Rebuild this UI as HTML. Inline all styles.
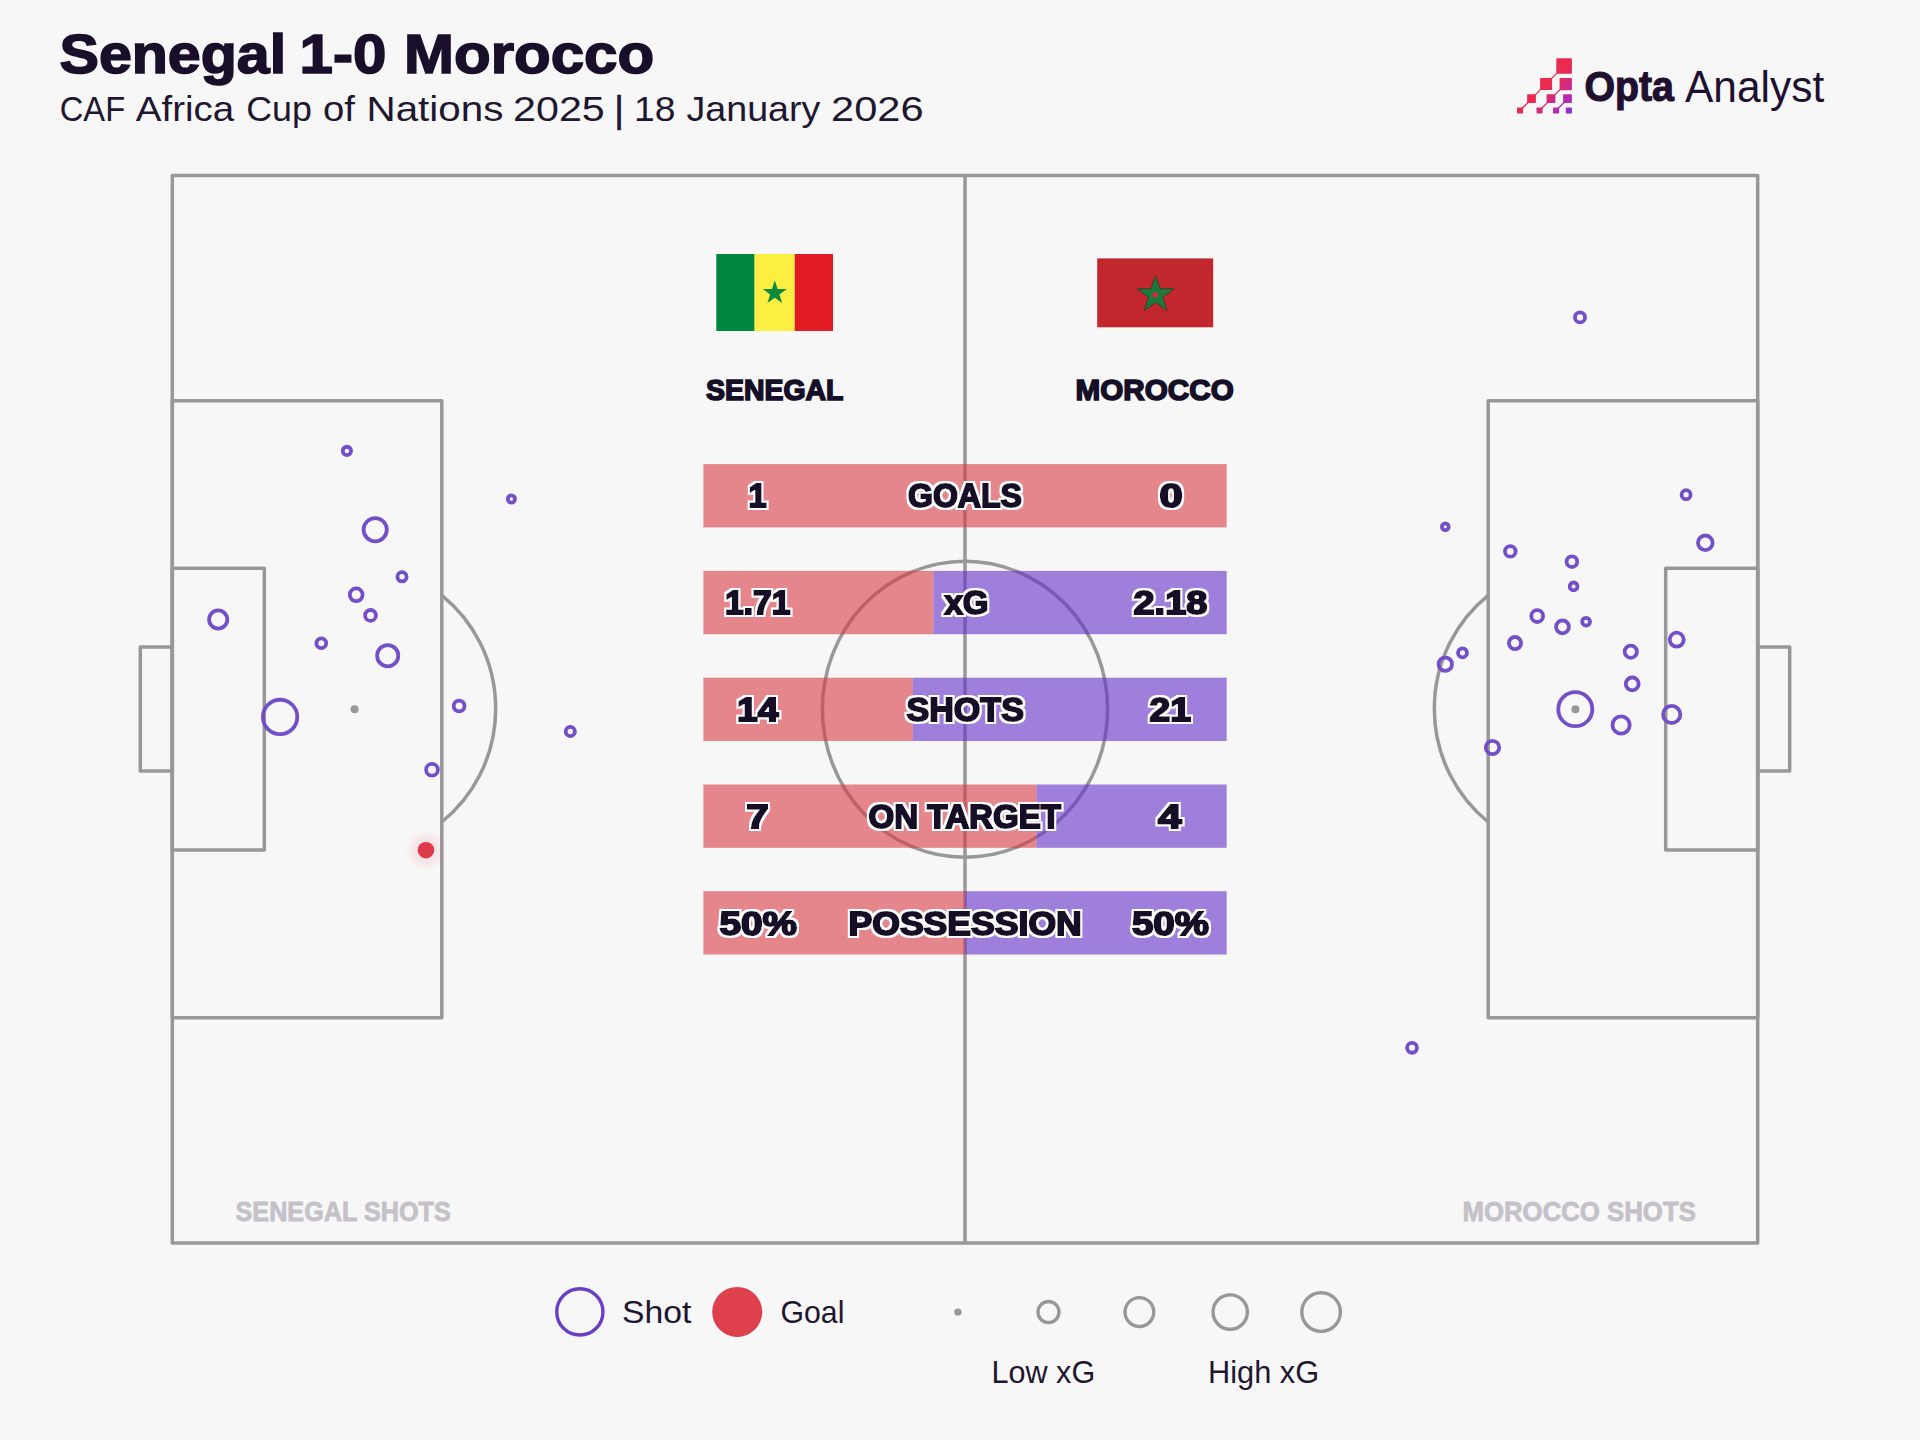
<!DOCTYPE html>
<html lang="en"><head><meta charset="utf-8"><title>Senegal 1-0 Morocco</title>
<style>
html,body{margin:0;padding:0;background:#f7f7f7;}
body{width:1920px;height:1440px;overflow:hidden;font-family:"Liberation Sans", sans-serif;}
svg{display:block;font-family:"Liberation Sans", sans-serif;}
.ln{fill:none;stroke:#989898;stroke-width:3.5;stroke-linejoin:round;}
.sh{fill:none;stroke:#7450c8;stroke-width:3.8;}
</style></head><body>
<svg width="1920" height="1440" viewBox="0 0 1920 1440">
<defs><linearGradient id="lg" gradientUnits="userSpaceOnUse" x1="1532" y1="70" x2="1575" y2="112"><stop offset="0" stop-color="#f22b45"/><stop offset="0.42" stop-color="#e82a52"/><stop offset="0.75" stop-color="#b82ab0"/><stop offset="1" stop-color="#7f2be6"/></linearGradient>
<filter id="ol" x="-40%" y="-30%" width="180%" height="160%"><feMorphology in="SourceAlpha" operator="dilate" radius="2" result="d"/><feFlood flood-color="#fff"/><feComposite in2="d" operator="in" result="o"/><feMerge><feMergeNode in="o"/><feMergeNode in="SourceGraphic"/></feMerge></filter>
<radialGradient id="glow"><stop offset="0" stop-color="#dc3d4b" stop-opacity="0.2"/><stop offset="1" stop-color="#dc3d4b" stop-opacity="0"/></radialGradient></defs>
<rect width="1920" height="1440" fill="#f7f7f7"/>
<text font-size="55.53" font-weight="700" fill="#1a0f2b" stroke="#1a0f2b" stroke-width="1.6" stroke-linejoin="miter" stroke-miterlimit="2.5"><tspan x="59.50" y="72.95" textLength="226.60" lengthAdjust="spacingAndGlyphs">Senegal</tspan> <tspan x="299.50" y="72.95" textLength="86.79" lengthAdjust="spacingAndGlyphs">1-0</tspan> <tspan x="404.00" y="72.95" textLength="250.09" lengthAdjust="spacingAndGlyphs">Morocco</tspan></text>
<text font-size="35.46" font-weight="400" fill="#1f1630"><tspan x="59.75" y="121.25" textLength="65.39" lengthAdjust="spacingAndGlyphs">CAF</tspan> <tspan x="135.75" y="121.25" textLength="98.43" lengthAdjust="spacingAndGlyphs">Africa</tspan> <tspan x="246.25" y="121.25" textLength="65.62" lengthAdjust="spacingAndGlyphs">Cup</tspan> <tspan x="323.00" y="121.25" textLength="31.93" lengthAdjust="spacingAndGlyphs">of</tspan> <tspan x="366.50" y="121.25" textLength="136.87" lengthAdjust="spacingAndGlyphs">Nations</tspan> <tspan x="513.00" y="121.25" textLength="91.77" lengthAdjust="spacingAndGlyphs">2025</tspan> <tspan x="614.3" y="121.5" font-size="37" stroke="#1f1630" stroke-width="0.6">|</tspan> <tspan x="634.00" y="121.25" textLength="41.44" lengthAdjust="spacingAndGlyphs">18</tspan> <tspan x="686.50" y="121.25" textLength="133.83" lengthAdjust="spacingAndGlyphs">January</tspan> <tspan x="831.00" y="121.25" textLength="92.52" lengthAdjust="spacingAndGlyphs">2026</tspan></text>
<g fill="url(#lg)">
<rect x="1556.3" y="58.2" width="15.6" height="15.6" rx="0.8"/>
<rect x="1540.1" y="78" width="12" height="12" rx="0.8"/>
<rect x="1559.6" y="78" width="12.3" height="12.3" rx="0.8"/>
<rect x="1527.1" y="94.2" width="8.8" height="8.8" rx="0.8"/>
<rect x="1546.6" y="94.2" width="8.8" height="8.8" rx="0.8"/>
<rect x="1563.1" y="94.2" width="8.8" height="8.8" rx="0.8"/>
<rect x="1517" y="107.4" width="6.1" height="6.1" rx="0.8"/>
<rect x="1536.5" y="107.4" width="6.1" height="6.1" rx="0.8"/>
<rect x="1553" y="107.4" width="6.1" height="6.1" rx="0.8"/>
<rect x="1565.8" y="107.4" width="6.1" height="6.1" rx="0.8"/>
</g>
<path stroke="url(#lg)" stroke-width="1.3" fill="none" d="M1522 108.5L1528.5 102M1534.5 95.6L1541.5 88.6M1550.7 79.4L1557.7 72.4M1541.5 108.5L1548 102M1554 95.6L1561 88.6M1558 108.5L1564.5 102"/>
<text x="1584.50" y="101.30" font-size="42.70" font-weight="700" textLength="89.45" lengthAdjust="spacingAndGlyphs" fill="#1f1030" stroke="#1f1030" stroke-width="1.2" stroke-linejoin="miter" stroke-miterlimit="2.5">Opta</text>
<text x="1685.00" y="101.90" font-size="44.40" font-weight="400" textLength="139.20" lengthAdjust="spacingAndGlyphs" fill="#1f1030">Analyst</text>
<g class="ln">
<rect x="172.3" y="175.4" width="1585.4" height="1067.6"/>
<line x1="965.00" y1="175.4" x2="965.00" y2="1243.0"/>
<ellipse cx="965.00" cy="709.2" rx="142.6" ry="148.0"/>
<rect x="172.3" y="400.7" width="269.5" height="617.1"/>
<rect x="1488.2" y="400.7" width="269.5" height="617.1"/>
<rect x="172.3" y="568.3" width="92.0" height="281.8"/>
<rect x="1665.7" y="568.3" width="92.0" height="281.8"/>
<rect x="140.3" y="647.0" width="32" height="124.0"/>
<rect x="1757.7" y="647.0" width="32" height="124.0"/>
<path d="M441.8 595.3A141.1 144.2 0 0 1 441.8 822.0"/>
<path d="M1488.2 595.3A141.1 144.2 0 0 0 1488.2 822.0"/>
</g>
<circle cx="354.6" cy="709.2" r="4" fill="#989898"/><circle cx="1575.4" cy="709.2" r="4" fill="#989898"/>
<rect x="703.4" y="464.1" width="523.3" height="63.3" fill="#d93b46" fill-opacity="0.6"/>
<rect x="703.4" y="570.9" width="230.0" height="63.3" fill="#d93b46" fill-opacity="0.6"/>
<rect x="933.4" y="570.9" width="293.3" height="63.3" fill="#642fca" fill-opacity="0.6"/>
<rect x="703.4" y="677.7" width="209.3" height="63.3" fill="#d93b46" fill-opacity="0.6"/>
<rect x="912.7" y="677.7" width="314.0" height="63.3" fill="#642fca" fill-opacity="0.6"/>
<rect x="703.4" y="784.5" width="333.0" height="63.3" fill="#d93b46" fill-opacity="0.6"/>
<rect x="1036.4" y="784.5" width="190.3" height="63.3" fill="#642fca" fill-opacity="0.6"/>
<rect x="703.4" y="891.2" width="261.6" height="63.3" fill="#d93b46" fill-opacity="0.6"/>
<rect x="965.0" y="891.2" width="261.7" height="63.3" fill="#642fca" fill-opacity="0.6"/>
<circle class="sh" cx="346.9" cy="450.9" r="4.15"/>
<circle class="sh" cx="511.4" cy="499" r="3.60"/>
<circle class="sh" cx="375.2" cy="529.7" r="11.60"/>
<circle class="sh" cx="402" cy="576.8" r="4.60"/>
<circle class="sh" cx="356.2" cy="594.8" r="6.40"/>
<circle class="sh" cx="370.5" cy="615.4" r="5.40"/>
<circle class="sh" cx="218.2" cy="619.5" r="9.10"/>
<circle class="sh" cx="321.3" cy="643.2" r="4.90"/>
<circle class="sh" cx="387.7" cy="655.7" r="10.60"/>
<circle class="sh" cx="280.1" cy="716.9" r="17.16"/>
<circle class="sh" cx="459.1" cy="706" r="5.40"/>
<circle class="sh" cx="570.3" cy="731.5" r="4.60"/>
<circle class="sh" cx="432" cy="769.8" r="5.90"/>
<circle class="sh" cx="1686.1" cy="494.7" r="4.50"/>
<circle class="sh" cx="1445.3" cy="526.7" r="3.40"/>
<circle class="sh" cx="1705.3" cy="542.8" r="7.30"/>
<circle class="sh" cx="1510.3" cy="551.4" r="5.30"/>
<circle class="sh" cx="1571.9" cy="561.7" r="5.30"/>
<circle class="sh" cx="1573.6" cy="586.4" r="3.90"/>
<circle class="sh" cx="1537.2" cy="616.1" r="5.90"/>
<circle class="sh" cx="1586.1" cy="621.7" r="3.90"/>
<circle class="sh" cx="1562.5" cy="626.9" r="6.40"/>
<circle class="sh" cx="1676.7" cy="639.7" r="7.00"/>
<circle class="sh" cx="1515" cy="643.1" r="6.10"/>
<circle class="sh" cx="1630.8" cy="651.7" r="6.10"/>
<circle class="sh" cx="1462.5" cy="652.8" r="4.50"/>
<circle class="sh" cx="1445.3" cy="664.2" r="6.70"/>
<circle class="sh" cx="1632.2" cy="683.9" r="6.40"/>
<circle class="sh" cx="1575.3" cy="709.2" r="17.00"/>
<circle class="sh" cx="1671.7" cy="714.4" r="8.60"/>
<circle class="sh" cx="1621.1" cy="725" r="8.60"/>
<circle class="sh" cx="1492.5" cy="747.5" r="6.70"/>
<circle class="sh" cx="1580" cy="317.4" r="5.05"/>
<circle class="sh" cx="1412.05" cy="1047.8" r="4.95"/>
<circle cx="426" cy="850.2" r="21" fill="url(#glow)"/><circle cx="425.95" cy="850.2" r="8.3" fill="#de3a4c"/>
<rect x="716.3" y="254" width="38.3" height="77" fill="#00853f"/><rect x="754.6" y="254" width="40.1" height="77" fill="#fdef42"/><rect x="794.7" y="254" width="38.3" height="77" fill="#e31b23"/>
<polygon points="774.8,280.3 777.6,289.0 786.8,289.0 779.4,294.4 782.2,303.1 774.8,297.7 767.4,303.1 770.2,294.4 762.8,289.0 772.0,289.0" fill="#0d8a3f"/>
<rect x="1097.2" y="258.4" width="116" height="68.9" fill="#c1272d"/>
<polygon points="1155.6,275.3 1160.0,288.8 1174.2,288.8 1162.7,297.2 1167.1,310.8 1155.6,302.4 1144.1,310.8 1148.5,297.2 1137.0,288.8 1151.2,288.8" fill="#1a7a3c" stroke="#3b3a24" stroke-width="0.9"/>
<polygon points="1155.4,298.1 1152.4,295.9 1153.5,292.3 1157.3,292.3 1158.4,295.9" fill="#d62a3a"/>
<text x="706.00" y="399.60" font-size="29.50" font-weight="700" textLength="137.46" lengthAdjust="spacingAndGlyphs" fill="#150f28" stroke="#150f28" stroke-width="1.6" stroke-linejoin="miter" stroke-miterlimit="2.5">SENEGAL</text>
<text x="1075.50" y="399.60" font-size="29.50" font-weight="700" textLength="158.30" lengthAdjust="spacingAndGlyphs" fill="#150f28" stroke="#150f28" stroke-width="1.6" stroke-linejoin="miter" stroke-miterlimit="2.5">MOROCCO</text>
<text x="748.50" y="507.40" font-size="32.62" font-weight="700" textLength="18.10" lengthAdjust="spacingAndGlyphs" fill="#150f28" stroke="#150f28" stroke-width="2.0" stroke-linejoin="miter" stroke-miterlimit="2.5" filter="url(#ol)">1</text>
<text x="908.00" y="507.40" font-size="32.62" font-weight="700" textLength="113.87" lengthAdjust="spacingAndGlyphs" fill="#150f28" stroke="#150f28" stroke-width="2.0" stroke-linejoin="miter" stroke-miterlimit="2.5" filter="url(#ol)">GOALS</text>
<text x="1159.50" y="507.40" font-size="32.62" font-weight="700" textLength="23.13" lengthAdjust="spacingAndGlyphs" fill="#150f28" stroke="#150f28" stroke-width="2.0" stroke-linejoin="miter" stroke-miterlimit="2.5" filter="url(#ol)">0</text>
<text x="725.00" y="614.20" font-size="32.62" font-weight="700" textLength="65.47" lengthAdjust="spacingAndGlyphs" fill="#150f28" stroke="#150f28" stroke-width="2.0" stroke-linejoin="miter" stroke-miterlimit="2.5" filter="url(#ol)">1.71</text>
<text x="944.50" y="614.20" font-size="32.62" font-weight="700" textLength="44.00" lengthAdjust="spacingAndGlyphs" fill="#150f28" stroke="#150f28" stroke-width="2.0" stroke-linejoin="miter" stroke-miterlimit="2.5" filter="url(#ol)">xG</text>
<text x="1133.50" y="614.20" font-size="32.62" font-weight="700" textLength="73.91" lengthAdjust="spacingAndGlyphs" fill="#150f28" stroke="#150f28" stroke-width="2.0" stroke-linejoin="miter" stroke-miterlimit="2.5" filter="url(#ol)">2.18</text>
<text x="737.00" y="721.00" font-size="32.62" font-weight="700" textLength="41.48" lengthAdjust="spacingAndGlyphs" fill="#150f28" stroke="#150f28" stroke-width="2.0" stroke-linejoin="miter" stroke-miterlimit="2.5" filter="url(#ol)">14</text>
<text x="906.50" y="721.00" font-size="32.62" font-weight="700" textLength="117.43" lengthAdjust="spacingAndGlyphs" fill="#150f28" stroke="#150f28" stroke-width="2.0" stroke-linejoin="miter" stroke-miterlimit="2.5" filter="url(#ol)">SHOTS</text>
<text x="1149.50" y="721.00" font-size="32.62" font-weight="700" textLength="41.43" lengthAdjust="spacingAndGlyphs" fill="#150f28" stroke="#150f28" stroke-width="2.0" stroke-linejoin="miter" stroke-miterlimit="2.5" filter="url(#ol)">21</text>
<text x="746.50" y="827.80" font-size="32.62" font-weight="700" textLength="22.05" lengthAdjust="spacingAndGlyphs" fill="#150f28" stroke="#150f28" stroke-width="2.0" stroke-linejoin="miter" stroke-miterlimit="2.5" filter="url(#ol)">7</text>
<text x="868.50" y="827.80" font-size="32.62" font-weight="700" textLength="192.53" lengthAdjust="spacingAndGlyphs" fill="#150f28" stroke="#150f28" stroke-width="2.0" stroke-linejoin="miter" stroke-miterlimit="2.5" filter="url(#ol)">ON TARGET</text>
<text x="1158.00" y="827.80" font-size="32.62" font-weight="700" textLength="23.65" lengthAdjust="spacingAndGlyphs" fill="#150f28" stroke="#150f28" stroke-width="2.0" stroke-linejoin="miter" stroke-miterlimit="2.5" filter="url(#ol)">4</text>
<text x="719.50" y="934.50" font-size="32.62" font-weight="700" textLength="77.46" lengthAdjust="spacingAndGlyphs" fill="#150f28" stroke="#150f28" stroke-width="2.0" stroke-linejoin="miter" stroke-miterlimit="2.5" filter="url(#ol)">50%</text>
<text x="848.50" y="934.50" font-size="32.62" font-weight="700" textLength="233.25" lengthAdjust="spacingAndGlyphs" fill="#150f28" stroke="#150f28" stroke-width="2.0" stroke-linejoin="miter" stroke-miterlimit="2.5" filter="url(#ol)">POSSESSION</text>
<text x="1132.00" y="934.50" font-size="32.62" font-weight="700" textLength="76.94" lengthAdjust="spacingAndGlyphs" fill="#150f28" stroke="#150f28" stroke-width="2.0" stroke-linejoin="miter" stroke-miterlimit="2.5" filter="url(#ol)">50%</text>
<text x="235.50" y="1220.70" font-size="27.23" font-weight="700" textLength="215.34" lengthAdjust="spacingAndGlyphs" fill="#c5c1c9" stroke="#c5c1c9" stroke-width="0.8" stroke-linejoin="miter" stroke-miterlimit="2.5">SENEGAL SHOTS</text>
<text x="1462.50" y="1220.70" font-size="27.23" font-weight="700" textLength="233.31" lengthAdjust="spacingAndGlyphs" fill="#c5c1c9" stroke="#c5c1c9" stroke-width="0.8" stroke-linejoin="miter" stroke-miterlimit="2.5">MOROCCO SHOTS</text>
<circle cx="579.85" cy="1311.9" r="23.1" fill="none" stroke="#6a3fc6" stroke-width="3.4"/>
<text x="622.00" y="1323.40" font-size="31.91" font-weight="400" textLength="69.38" lengthAdjust="spacingAndGlyphs" fill="#1f1630">Shot</text>
<circle cx="737.2" cy="1311.9" r="25" fill="#de404c"/>
<text x="780.50" y="1323.40" font-size="31.91" font-weight="400" textLength="63.93" lengthAdjust="spacingAndGlyphs" fill="#1f1630">Goal</text>
<circle cx="957.9" cy="1312.1" r="3.7" fill="#989898"/>
<circle cx="1048.5" cy="1312.05" r="10.55" fill="none" stroke="#989898" stroke-width="3.4"/>
<circle cx="1139.4" cy="1312.05" r="14.40" fill="none" stroke="#989898" stroke-width="3.4"/>
<circle cx="1230.2" cy="1312.05" r="17.20" fill="none" stroke="#989898" stroke-width="3.4"/>
<circle cx="1321.1" cy="1312.05" r="19.30" fill="none" stroke="#989898" stroke-width="3.4"/>
<text x="991.50" y="1383.30" font-size="31.06" font-weight="400" textLength="103.73" lengthAdjust="spacingAndGlyphs" fill="#1f1630">Low xG</text>
<text x="1208.00" y="1383.30" font-size="31.06" font-weight="400" textLength="111.20" lengthAdjust="spacingAndGlyphs" fill="#1f1630">High xG</text>
</svg></body></html>
